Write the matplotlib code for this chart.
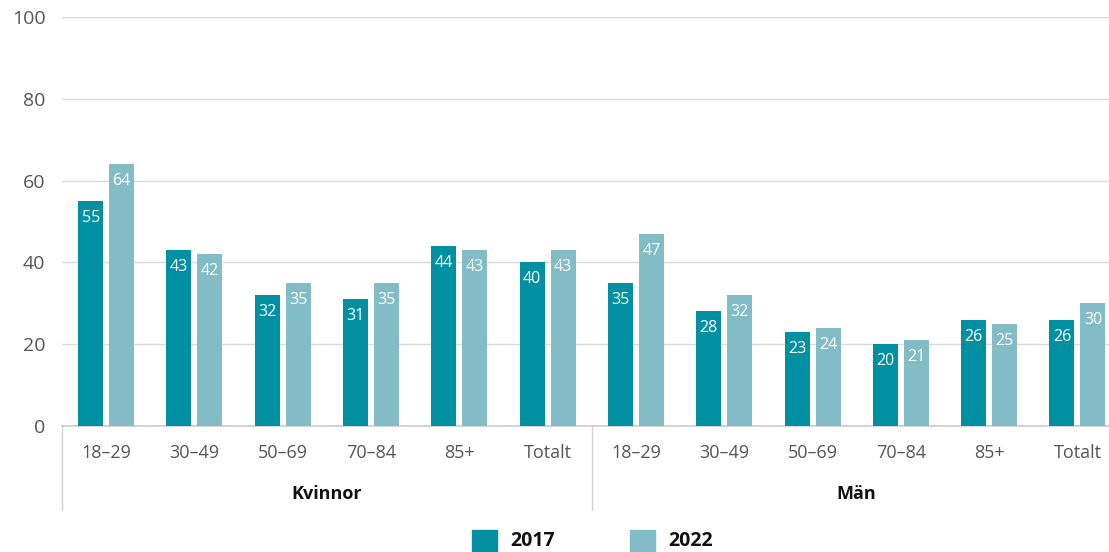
import matplotlib
matplotlib.use("Agg")
import matplotlib.pyplot as plt
import matplotlib.transforms as mtransforms
from matplotlib.patches import Rectangle
import numpy as np

plt.rcParams['font.family'] = ['Open Sans', 'DejaVu Sans']

age_groups = ["18–29", "30–49", "50–69", "70–84", "85+", "Totalt"]
sexes = ["Kvinnor", "Män"]
years = ["2017", "2022"]
values_2017 = [55, 43, 32, 31, 44, 40, 35, 28, 23, 20, 26, 26]
values_2022 = [64, 42, 35, 35, 43, 43, 47, 32, 24, 21, 25, 30]
y_ticks = [0, 20, 40, 60, 80, 100]

c2017 = "#0090a2"
c2022 = "#81bcc7"
tick_color = "#555555"

W, H = 1109, 552
fig = plt.figure(figsize=(W / 100, H / 100), dpi=100)
left_px, right_px = 62, 62 + 12 * 88.3
bottom_px, top_px = 426, 17
ax = fig.add_axes([left_px / W, (H - bottom_px) / H,
                   (right_px - left_px) / W, (bottom_px - top_px) / H])

labels = age_groups * len(sexes)
x = np.arange(len(labels))
bw = 0.283
off = 0.1755
b1 = ax.bar(x - off, values_2017, width=bw, color=c2017, zorder=3)
b2 = ax.bar(x + off, values_2022, width=bw, color=c2022, zorder=3)

for bars, vals in ((b1, values_2017), (b2, values_2022)):
    for rect, v in zip(bars, vals):
        ax.annotate(str(v), (rect.get_x() + rect.get_width() / 2, v),
                    xytext=(0, -17), textcoords="offset pixels",
                    ha="center", va="center", color="white", fontsize=11.5, zorder=4)

ax.set_xlim(-0.5, len(labels) - 0.5)
ax.set_ylim(0, 100)
ax.set_yticks(y_ticks)
ax.set_yticklabels([str(t) for t in y_ticks], fontsize=14, color=tick_color)
ax.tick_params(axis="y", length=0, pad=12)
ax.set_xticks(x)
ax.set_xticklabels(labels, fontsize=13, color=tick_color)
ax.tick_params(axis="x", length=0, pad=13)
ax.grid(axis="y", color="#d9d9d9", linewidth=1, zorder=0)
for s in ["top", "right", "left"]:
    ax.spines[s].set_visible(False)
ax.spines["bottom"].set_color("#cccccc")
ax.spines["bottom"].set_linewidth(1.2)

trans = mtransforms.blended_transform_factory(ax.transData, ax.transAxes)
y_low = -(510 - 426) / (426 - 17)
for xv in [-0.5, 5.5, 11.5]:
    ax.plot([xv, xv], [0, y_low], transform=trans, color="#d0d0d0", lw=1, clip_on=False)

y_grp = -(494 - 426) / (426 - 17)
for i, s in enumerate(sexes):
    ax.text(i * 6 + 2.5, y_grp, s, transform=trans, ha="center", va="center",
            fontsize=13, fontweight="bold", color="#111111")

# legend
leg_y = (H - 541) / H
for xs, xt, col, lab in ((472, 510, c2017, years[0]), (630, 668, c2022, years[1])):
    fig.patches.append(Rectangle((xs / W, (H - 552) / H), 25 / W, 22 / H,
                                 transform=fig.transFigure, color=col))
    fig.text(xt / W, leg_y, lab, ha="left", va="center", fontsize=14,
             fontweight="bold", color="#111111")

fig.savefig("out.png", dpi=100)
